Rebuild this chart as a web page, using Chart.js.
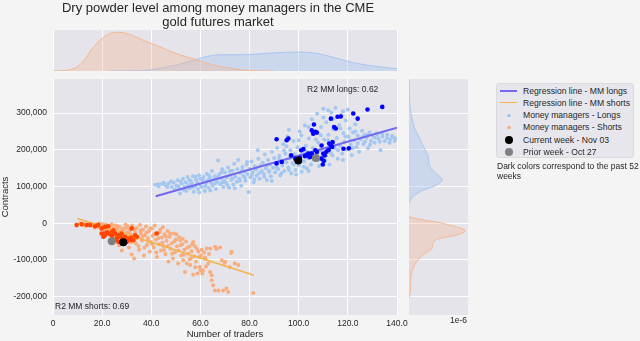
<!DOCTYPE html>
<html>
<head>
<meta charset="utf-8">
<script src="https://cdn.jsdelivr.net/npm/chart.js@4.4.1/dist/chart.umd.min.js"></script>
<style>
  body { margin: 0; background: #f3f4f3; font-family: "Liberation Sans", Arial, sans-serif; }
  #wrap { position: relative; width: 640px; height: 341px; overflow: hidden; }
  canvas { position: absolute; left: 0; top: 0; }
  .txt { position: absolute; color: #262626; white-space: nowrap; }
  #legend { position: absolute; left: 496px; top: 83px; width: 136px; height: 73px; background: #e6e6ec;
            border: 1px solid #d9d9de; border-radius: 3px; }
  .row { position: absolute; left: 0; height: 12px; font-size: 8.6px; line-height: 12px; color: #262626; white-space: nowrap; }
  .row .lbl { position: absolute; left: 26px; top: 0; }
  .mk { position: absolute; }
</style>
</head>
<body>
<div id="wrap">
  <canvas id="main" width="640" height="341"></canvas>
  <canvas id="topKde" width="640" height="341"></canvas>
  <canvas id="rightKde" width="640" height="341"></canvas>
  <div class="txt" style="left:0;width:436px;text-align:center;top:1px;font-size:13px;line-height:14px;">Dry powder level among money managers in the CME<br>gold futures market</div>
  <div class="txt" style="left:307px;top:84px;font-size:8.5px;line-height:10px;">R2 MM longs: 0.62</div>
  <div class="txt" style="left:55px;top:301px;font-size:8.5px;line-height:10px;">R2 MM shorts: 0.69</div>
  <div class="txt" style="left:450px;top:315px;font-size:8.5px;line-height:10px;">1e-6</div>
  <div id="legend"></div>
  <div class="txt" style="left:497px;top:161px;font-size:8.5px;line-height:10px;">Dark colors correspond to the past 52<br>weeks</div>
</div>
<script>
// regression fits (x = number of traders, y = contracts)
const longsFit = [[41.8, 73600], [140, 260000]];
const shortsFit = [[9.9, 12800], [81.8, -141700]];

// money managers, all weeks - [traders, contracts in thousands]
const longsAll = [
  [41.5,105],[42.8,106],[44.2,107],[45.6,104],[47,108],[48.3,99],[49.1,111],[49.6,92],[50.2,103],
  [50.8,117],[51.3,96],[51.7,81],[52.4,108],[52.9,121],[53.5,99],[54,112],[54.2,88],[54.8,126],[55,104],
  [55.6,95],[56.1,115],[56.5,108],[57,128],[57.3,86],[57.8,101],[58.2,119],[58.6,112],[59,93],[59.4,131],[59.7,105],[60,121],
  [60.5,99],[60.9,113],[61.3,126],[61.8,88],[62.2,108],[62.6,135],[63,117],[63.4,96],[63.9,124],[64.3,110],[64.7,142],[65,103],
  [65.5,119],[65.9,128],[66.3,93],[66.8,113],[67.2,171],[67.6,133],[68,106],[68.4,122],[68.9,147],[69.3,99],[69.7,116],[70,138],
  [70.4,110],[70.8,125],[71.2,152],[71.7,97],[72.1,131],[72.5,118],[73,143],[73.4,105],[73.8,162],[74.2,127],[74.7,113],[75,148],
  [75.4,172],[75.8,121],[76.2,137],[76.6,102],[77.1,153],[77.5,129],[77.9,141],[78.3,116],[78.8,160],[79.2,134],[79.6,85],[80,148],
  [80.4,125],[80.8,168],[81.2,139],[81.6,112],[82.1,155],[82.5,146],[82.9,130],[83.3,199],[83.6,176],[84.1,121],[84.5,158],[85,142],
  [85.4,165],[85.8,134],[86.2,187],[86.6,150],[87,118],[87.5,172],[87.9,143],[88.3,160],[88.7,128],[89.1,195],[89.5,151],[90,178],
  [90.4,139],[90.8,163],[91.2,205],[91.6,148],[92.1,184],[92.5,130],[92.9,171],[93.3,157],[93.7,215],[94.1,142],[94.6,189],[95,166],
  [95.4,236],[95.8,152],[96.2,177],[96.6,199],[97,136],[97.5,164],[97.9,224],[98.3,188],[98.7,145],[99.1,171],[99.5,207],[100,158],
  [100.4,250],[100.8,185],[101.2,140],[101.6,196],[102.1,168],[102.5,266],[102.9,211],[103.3,150],[103.7,178],[104.1,231],[104.6,193],[105,160],
  [105.4,283],[105.8,205],[106.2,172],[106.6,246],[107,188],[107.5,298],[107.9,219],[108.3,156],[108.7,199],[109.1,262],[109.5,181],[110,312],
  [110.4,228],[110.8,170],[111.2,275],[111.6,197],[112.1,241],[112.5,160],[112.9,215],[113.3,302],[113.7,185],[114.1,256],[114.6,205],[115,315],
  [115.5,232],[115.9,176],[116.4,268],[116.8,212],[117.3,295],[117.7,190],[118.2,245],[118.6,222],[119.1,280],[119.6,201],
  [120.2,236],[120.7,258],[121.1,214],[121.6,186],[122,247],[122.5,226],[123,270],[123.5,208],[124,239],[124.6,195],
  [125.2,229],[125.8,252],[126.4,216],[127,241],[127.6,233],[128.2,205],[128.8,247],[129.4,224],
  [130.1,238],[130.9,219],[131.7,245],[132.5,230],[133.3,199],[134.1,236],[135,224],[136,241],[137.2,228],[138.5,234],[139.6,230],
  [43,101],[45,110],[46.5,99],[48,114],[51,101],[52,113],[53,91],[55.5,118],[56.8,98],[58,127],[59.5,84],[61,118],[62,101],
  [63.5,130],[64,89],[66,108],[67,125],[68.5,139],[69,112],[71,104],[72,142],[73,122],[74,95],[76,115],[77,144],[78,125],
  [79,167],[81,131],[82,119],[83,152],[84,137],[86,127],[87,158],[88,140],[89,115],[91,152],[92,175],[93,136],[94,198],
  [96,145],[97,186],[98,160],[99,133],[101,171],[102,154],[103,196],[104,142],[106,184],[107,228],[108,173],[109,240],
  [111,182],[112,226],[113,193],[114,284],[116,199],[117,258],[118,172],[119,236],[121,226],[122,205],[123,250],[124,218],
  [126,235],[127,222],[128,240],[129,214],[131,233],[132,241],[133,222],[134,245],[136,232],[137,219],[138,238],[139,224],
  [95,210],[100,226],[104,262],[110,288],[118,305],[120,310],[112,308],[101,240],[96,255]
];
const shortsAll = [
  [12.5,-2],[14,-4],[15.5,-1],[16.2,-7],[17.5,-3],[18.2,-10],[19,-6],[19.6,-16],[20,-2],
  [20.6,-8],[21,-20],[21.5,-4],[22,-14],[22.4,-27],[22.9,-9],[23.3,-18],[23.8,-3],[24.2,-31],[24.6,-12],[25,-22],
  [25.4,-6],[25.8,-40],[26.1,-16],[26.5,-27],[26.9,-60],[27.2,-10],[27.6,-21],[28,-74],[28.3,-33],[28.7,-14],[29.1,-48],[29.5,-4],[29.8,-25],
  [30.2,-38],[30.5,-9],[30.9,-66],[31.3,-19],[31.6,-31],[32,-85],[32.3,-6],[32.7,-44],[33,-96],[33.4,-24],[33.8,-55],[34.1,-13],[34.5,-36],
  [35,-72],[35.4,-5],[35.8,-28],[36.2,-47],[36.6,-18],[37,-88],[37.4,-33],[37.8,-9],[38.2,-59],[38.6,-41],[39,-22],[39.4,-78],[39.8,-51],
  [40.2,-14],[40.6,-35],[41,-66],[41.4,-6],[41.8,-45],[42.3,-92],[42.7,-27],[43.1,-57],[43.5,-24],[43.9,-74],[44.3,-39],[44.7,-11],[45,-62],
  [45.4,-30],[45.8,-84],[46.2,-48],[46.6,-21],[47,-104],[47.5,-37],[47.9,-70],[48.3,-55],[48.8,-96],[49.2,-28],[49.6,-79],[50,-44],
  [50.4,-63],[50.9,-110],[51.3,-38],[51.7,-46],[52.1,-88],[52.6,-57],[53,-101],[53.5,-72],[53.7,-133],[54.1,-50],[54.4,-110],[55,-83],
  [55.4,-64],[55.8,-114],[56.2,-95],[56.6,-58],[57.1,-51],[57.5,-90],[57.9,-120],[58.5,-69],[58.8,-137],[59.2,-77],[59.8,-119],[60.2,-88],
  [60.8,-137],[61.1,-128],[61.5,-80],[62,-97],[62.6,-69],[63.2,-110],[63.9,-133],[64,-69],[64.6,-142],[64.6,-155],[65.2,-169],
  [65.9,-183],[66,-64],[67.3,-183],[68,-66],[68.7,-101],[69.3,-183],[70.1,-105],[70.6,-178],[71.3,-187],[72,-119],[72.7,-78],
  [75.4,-114],[81.5,-190],
  [11,0],[13,-6],[15,-3],[17,-12],[18.8,-1],[20.3,-12],[21.8,-5],[23,-23],[24.4,-6],[25.6,-30],[26.3,-8],[27.4,-44],
  [28.5,-18],[29.3,-55],[30,-12],[31,-28],[31.9,-52],[33.2,-16],[34,-41],[34.8,-62],[35.6,-20],[36.4,-37],[37.2,-67],
  [38,-26],[38.8,-49],[39.6,-14],[40.4,-57],[41.2,-29],[42,-80],[42.9,-40],[43.7,-18],[44.5,-53],[45.2,-73],[46,-36],
  [46.8,-62],[47.7,-28],[48.5,-83],[49.4,-50],[50.2,-30],[51,-74],[51.9,-60],[52.8,-42],[53.3,-86],[54.7,-66],[55.6,-98],
  [56.4,-76],[57.7,-62],[58.2,-104],[59.5,-92],[60.5,-72],[61.8,-93],[62.3,-118],[63.5,-84],[66.5,-70],[69.8,-108],
  [72.5,-81],[74,-110],[60,-128],[57,-140]
];

// past 52 weeks
const longs52 = [
  [91,229],[95.1,226],[95.8,231],[91,163],[93.1,167],[96.9,185],[98.6,176],[101,199],[101.9,202],[103.2,185],
  [103.9,190],[105.3,190],[105.9,181],[106.8,199],[107.4,194],[109.3,212],[109.3,176],[110,190],[110.6,185],[112.4,217],
  [113.1,212],[113.8,221],[105.3,253],[105.9,244],[106.8,249],[106.2,269],[107.4,247],[114.4,262],[115.1,258],[113.1,285],
  [115.8,290],[117.1,291],[122.2,299],[124,285],[128,310],[134,317],[120.4,204],[118.2,203],[110.2,170],[109.8,160],
  [104.5,180],[100.5,178],[102.5,183],[113.6,208],[112.2,200],[111.3,195]
];
const shorts52 = [
  [9.6,-5],[11.7,-3],[13.7,-5],[15.1,-5],[17.1,-8],[18.4,-5],[19.8,-14],[21.2,-10],[22.5,-8],[19.8,-28],
  [21.2,-33],[23.2,-30],[25.2,-28],[26.6,-33],[27.9,-28],[27.3,-37],[28.6,-42],[29.3,-37],[30.7,-42],[31.3,-46],
  [30,-51],[25.9,-46],[26.6,-51],[20.5,-37],[20.9,-28],[33.4,-33],[34.1,-37],[42.2,-28],[32.7,-46],[23.9,-24],
  [24.6,-19],[32,-14],[24,-35],[26,-38],[28,-45],[29.8,-44],[22,-25],[31.8,-40]
];

// current week (Nov 03) and prior week (Oct 27)
const currentWeek = [[99.8, 170800], [28.6, -51800]];
const priorWeek = [[107, 178000], [23.9, -49000]];

// tick values
const traderTicks = [0, 20, 40, 60, 80, 100, 120, 140];
const contractTicks = [-200000, -100000, 0, 100000, 200000, 300000];

// marginal densities: traders axis (density x 1e-3)
const traderGridShorts = [0,5,8,10,12,14,16,18,20,22,24,27,30,33,36,40,44,48,52,56,60,64,68,72,76,80,85,90];
const traderDensShorts = [0,0.5,2,4.5,9,15,22.5,28,32.5,36,38,38.7,37.5,35,31.5,27.5,23.8,19.3,16,13,9.8,6.8,4.5,2.8,1.3,0.5,0.1,0];
const traderGridLongs = [23,30,35,38,43.5,48.9,54.4,59.8,65.2,70.7,76.1,81.5,87,92.4,97.8,103.3,108.7,114.1,119.5,125,130.4,135.8,140];
const traderDensLongs = [0,0.1,0.3,0.7,2.7,5.3,8.7,12.7,15.7,16.3,16.3,16.7,17.7,18.3,19,18.7,17,13.7,10,7,5,3.3,2.3];

// marginal densities: contracts axis (thousands, density x 1e-6)
const contractGridLongs = [390,360,330,294,258,235,221,194,185,167,149,131,120,103.5,90,76,63,54];
const contractDensLongs = [0,0.05,0.1,0.47,1.16,2.03,2.5,3.52,3.86,4.0,4.54,5.9,6.75,5.55,2.85,1.16,0.26,0];
const contractGridShorts = [21.8,16,12.7,8,3.5,-3,-10,-16,-21,-27,-32.7,-37,-41.7,-48,-55.3,-62,-69,-76,-82.6,-91,-100.8,-112,-123.4,-137,-150.7,-165,-178,-190,-205];
const contractDensShorts = [0,0.4,1.48,3.3,5.55,7.7,9.62,11.0,11.45,10.8,9.62,8,6.24,5.2,4.88,4.75,4.68,4.0,3.19,2.4,1.83,1.2,0.81,0.5,0.35,0.35,0.35,0.2,0];

const FONT = '"Liberation Sans", Arial, sans-serif';
const TXT = '#262626';
const AXIS_BG = '#e4e4ea';
const C = {
  longLine: '#7468ee', shortLine: '#f6b24a',
  longLight: '#a3c7f1', shortLight: '#f9ad7d',
  long52: '#0000ff', short52: '#ff4500',
  current: '#000000', prior: '#808080',
  kdeLongLine: '#aac6ee', kdeLongFill: 'rgba(165,195,240,0.4)',
  kdeShortLine: '#f2b896', kdeShortFill: 'rgba(245,180,145,0.35)'
};
const Y_MIN = -250000, Y_MAX = 393000;

const areaBg = {
  id: 'areaBg',
  beforeDraw(chart) {
    const { ctx, chartArea: a } = chart;
    ctx.save();
    ctx.fillStyle = AXIS_BG;
    ctx.fillRect(a.left, a.top, a.right - a.left, a.bottom - a.top);
    ctx.restore();
  }
};

const fixTicks = vals => s => { s.ticks = vals.map(v => ({ value: v })); };
const toPts = (arr, k) => arr.map(p => ({ x: p[0], y: p[1] * k }));
const pointSet = (label, arr, k, color, r, order) => ({
  label, data: toPts(arr, k), backgroundColor: color, borderWidth: 0,
  pointRadius: r, pointHoverRadius: r, order
});
const lineSet = (label, arr, color, w) => ({
  label, data: toPts(arr, 1), showLine: true, borderColor: color, borderWidth: w,
  pointRadius: 0, order: 2
});

new Chart(document.getElementById('main'), {
  type: 'scatter',
  data: {
    datasets: [
      lineSet('Regression line - MM longs', longsFit, C.longLine, 2),
      lineSet('Regression line - MM shorts', shortsFit, C.shortLine, 1.5),
      pointSet('Money managers - Longs', longsAll, 1000, C.longLight, 2, 3),
      pointSet('Money managers - Shorts', shortsAll, 1000, C.shortLight, 2, 3),
      pointSet('Longs - past 52 weeks', longs52, 1000, C.long52, 2.3, 1),
      pointSet('Shorts - past 52 weeks', shorts52, 1000, C.short52, 2.3, 1),
      pointSet('Current week - Nov 03', currentWeek, 1, C.current, 4, 0),
      pointSet('Prior week - Oct 27', priorWeek, 1, C.prior, 4, 0)
    ]
  },
  options: {
    responsive: false, animation: false,
    layout: { padding: { left: 0, top: 79, right: 243, bottom: 0 } },
    plugins: { legend: { display: false }, tooltip: { enabled: false } },
    scales: {
      x: {
        type: 'linear', min: 0, max: 140,
        afterFit(s) { s.height = 26; },
        afterBuildTicks: fixTicks(traderTicks),
        border: { display: false },
        grid: { color: '#ffffff', lineWidth: 1, drawTicks: false },
        ticks: {
          autoSkip: false, maxRotation: 0, padding: 4, color: TXT,
          font: { family: FONT, size: 8.5 },
          callback: v => v === 0 ? '0' : v.toFixed(1)
        },
        title: { display: true, text: 'Number of traders', color: TXT, padding: { top: 0, bottom: 1 }, font: { family: FONT, size: 9.5 } }
      },
      y: {
        type: 'linear', min: Y_MIN, max: Y_MAX,
        afterFit(s) { s.width = 53; },
        afterBuildTicks: fixTicks(contractTicks),
        border: { display: false },
        grid: { color: '#ffffff', lineWidth: 1, drawTicks: false },
        ticks: {
          padding: 6, color: TXT,
          font: { family: FONT, size: 8.5 },
          callback: v => v.toLocaleString('en-US')
        },
        title: { display: true, text: 'Contracts', color: TXT, padding: { top: 0, bottom: 0 }, font: { family: FONT, size: 9.5 } }
      }
    }
  },
  plugins: [areaBg]
});

new Chart(document.getElementById('topKde'), {
  type: 'line',
  data: {
    datasets: [
      { data: traderGridShorts.map((x, i) => ({ x, y: traderDensShorts[i] / 1000 })), borderColor: C.kdeShortLine,
        backgroundColor: C.kdeShortFill, fill: 'origin', borderWidth: 1, pointRadius: 0, cubicInterpolationMode: 'monotone' },
      { data: traderGridLongs.map((x, i) => ({ x, y: traderDensLongs[i] / 1000 })), borderColor: C.kdeLongLine,
        backgroundColor: C.kdeLongFill, fill: 'origin', borderWidth: 1, pointRadius: 0, cubicInterpolationMode: 'monotone' }
    ]
  },
  options: {
    responsive: false, animation: false,
    layout: { padding: { left: 53, top: 30, right: 243, bottom: 270 } },
    plugins: { legend: { display: false }, tooltip: { enabled: false } },
    scales: {
      x: {
        type: 'linear', min: 0, max: 140,
        afterFit(s) { s.height = 0; },
        afterBuildTicks: fixTicks(traderTicks),
        border: { display: false },
        grid: { color: '#ffffff', drawTicks: false },
        ticks: { display: false }
      },
      y: { type: 'linear', min: 0, max: 0.041, display: false }
    }
  },
  plugins: [areaBg]
});

new Chart(document.getElementById('rightKde'), {
  type: 'line',
  data: {
    datasets: [
      { data: contractGridLongs.map((y, i) => ({ x: contractDensLongs[i] * 1e-6, y: y * 1000 })), borderColor: C.kdeLongLine,
        backgroundColor: C.kdeLongFill, fill: 'origin', borderWidth: 1, pointRadius: 0, cubicInterpolationMode: 'monotone' },
      { data: contractGridShorts.map((y, i) => ({ x: contractDensShorts[i] * 1e-6, y: y * 1000 })), borderColor: C.kdeShortLine,
        backgroundColor: C.kdeShortFill, fill: 'origin', borderWidth: 1, pointRadius: 0, cubicInterpolationMode: 'monotone' }
    ]
  },
  options: {
    indexAxis: 'y',
    responsive: false, animation: false,
    layout: { padding: { left: 409, top: 79, right: 172, bottom: 26 } },
    plugins: { legend: { display: false }, tooltip: { enabled: false } },
    scales: {
      x: { type: 'linear', min: 0, max: 12e-6, display: false },
      y: {
        type: 'linear', min: Y_MIN, max: Y_MAX,
        afterFit(s) { s.width = 0; },
        afterBuildTicks: fixTicks(contractTicks),
        border: { display: false },
        grid: { color: '#ffffff', drawTicks: false },
        ticks: { display: false }
      }
    }
  },
  plugins: [areaBg]
});

// legend
const legendItems = [
  { label: 'Regression line - MM longs', kind: 'line', color: C.longLine, w: 2 },
  { label: 'Regression line - MM shorts', kind: 'line', color: C.shortLine, w: 1.5 },
  { label: 'Money managers - Longs', kind: 'dot', color: C.longLight, r: 1.7 },
  { label: 'Money managers - Shorts', kind: 'dot', color: C.shortLight, r: 1.7 },
  { label: 'Current week - Nov 03', kind: 'dot', color: C.current, r: 4 },
  { label: 'Prior week - Oct 27', kind: 'dot', color: C.prior, r: 4 }
];
const legend = document.getElementById('legend');
legendItems.forEach((item, i) => {
  const row = document.createElement('div');
  row.className = 'row';
  row.style.top = (1 + i * 12.15) + 'px';
  row.style.width = '136px';
  const mk = document.createElement('span');
  mk.className = 'mk';
  if (item.kind === 'line') {
    mk.style.cssText = `left:3px;top:5px;width:17px;height:0;border-top:${item.w}px solid ${item.color};`;
  } else {
    const d = item.r * 2;
    mk.style.cssText = `left:${12 - item.r}px;top:${6 - item.r}px;width:${d}px;height:${d}px;border-radius:50%;background:${item.color};`;
  }
  const lbl = document.createElement('span');
  lbl.className = 'lbl';
  lbl.textContent = item.label;
  row.appendChild(mk);
  row.appendChild(lbl);
  legend.appendChild(row);
});
</script>
</body>
</html>
